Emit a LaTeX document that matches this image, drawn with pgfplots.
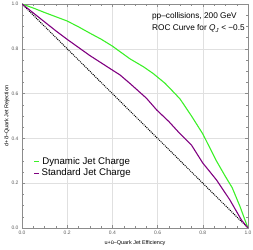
\documentclass[border=0pt]{standalone}
\usepackage{pgfplots}
\pgfplotsset{compat=1.18}
\usepackage{fontspec}
\setmainfont{Liberation Sans}
\definecolor{dyn}{RGB}{60,240,40}
\definecolor{std}{RGB}{128,0,128}
\begin{document}
\begin{tikzpicture}
\useasboundingbox (-22bp,-22bp) rectangle (231bp,228bp);
\begin{axis}[
  scale only axis, width=226bp, height=224bp,
  xmin=0, xmax=1, ymin=0, ymax=1,
  xtick={0,0.2,...,1.0}, ytick={0,0.2,...,1.0},
  minor tick num=3,
  xticklabel style={/pgf/number format/fixed,/pgf/number format/fixed zerofill,/pgf/number format/precision=1},
  yticklabel style={/pgf/number format/fixed,/pgf/number format/fixed zerofill,/pgf/number format/precision=1},
  /pgf/number format/assume math mode=true,
  tick label style={font=\fontsize{5}{6}\selectfont, text=black!65},
  tick align=inside, ticks=both,
  major tick length=3bp, minor tick length=1.8bp,
  tick style={black!45, line width=0.4pt},
  grid=major, grid style={black!12, line width=0.5pt},
  axis line style={black!45, line width=0.5pt},
  xlabel={u+\=u--Quark Jet Efficiency},
  ylabel={d+\=d--Quark Jet Rejection},
  label style={font=\fontsize{5.5}{6}\selectfont},
  xlabel style={at={(axis description cs:0.5,0)}, anchor=north, yshift=-9bp},
  ylabel style={at={(axis description cs:0,0.5)}, anchor=south, yshift=9bp},
  legend style={at={(axis cs:0.05,0.325)}, anchor=north west, draw=none, fill=none,
    font=\fontsize{9.7}{11}\selectfont, row sep=-1bp, inner sep=0pt},
  legend image code/.code={\draw[#1, line width=1.1pt] (0bp,0bp) -- (5bp,0bp);},
]
\addplot[black, densely dotted, line width=1pt, forget plot] coordinates {(0,1) (1,0)};
\addplot[dyn, line width=1.1pt] coordinates {
(0,1) (0.05,0.982) (0.1,0.962) (0.15,0.943) (0.2,0.924) (0.25,0.898) (0.3,0.870)
(0.35,0.843) (0.4,0.812) (0.434,0.787) (0.478,0.755) (0.537,0.72) (0.58,0.69)
(0.633,0.646) (0.677,0.60) (0.70,0.575) (0.75,0.50) (0.80,0.42) (0.86,0.30)
(0.90,0.23) (0.93,0.18) (0.965,0.095) (0.985,0.04) (1,0)};
\addlegendentry{Dynamic Jet Charge}
\addplot[std, line width=1.1pt] coordinates {
(0,1) (0.05,0.96) (0.1,0.92) (0.15,0.88) (0.2,0.842) (0.3,0.77) (0.4,0.705)
(0.434,0.683) (0.478,0.645) (0.55,0.58) (0.596,0.527) (0.65,0.475) (0.70,0.42)
(0.75,0.37) (0.80,0.29) (0.861,0.214) (0.92,0.125) (0.972,0.034) (1,0)};
\addlegendentry{Standard Jet Charge}
\node[anchor=north west, align=left, font=\fontsize{8.3}{13}\selectfont, inner sep=0pt]
  at (axis cs:0.575,0.965) {pp--collisions, 200 GeV\\ROC Curve for \textit{Q}\textsubscript{\textit{J}} < −0.5};
\end{axis}
\end{tikzpicture}
\end{document}
